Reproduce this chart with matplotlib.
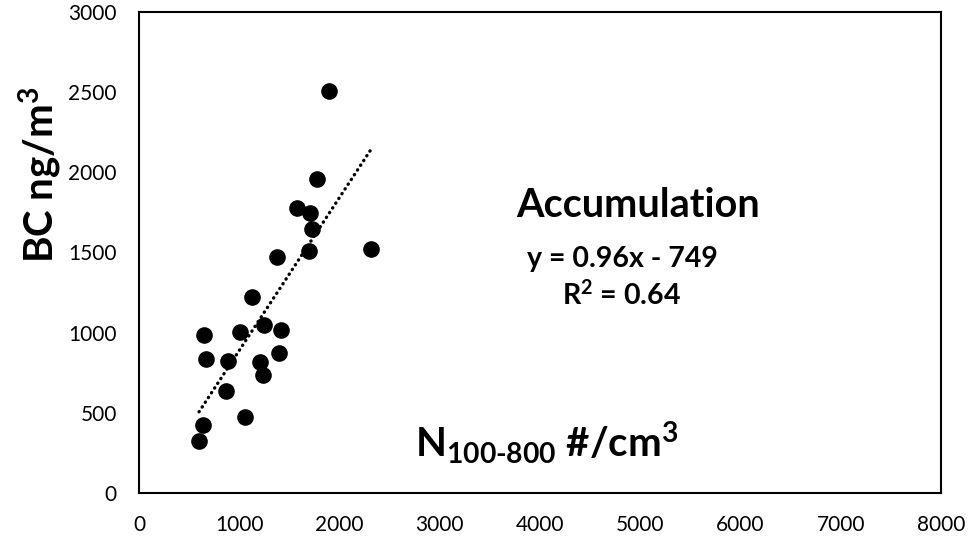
import numpy as np
import matplotlib.pyplot as plt

plt.rcParams['font.family'] = ['Lato', 'DejaVu Sans']
plt.rcParams['mathtext.fontset'] = 'custom'
plt.rcParams['mathtext.rm'] = 'Lato:bold'
plt.rcParams['mathtext.it'] = 'Lato:bold'
plt.rcParams['mathtext.bf'] = 'Lato:bold'

# N100-800 (#/cm3) vs BC (ng/m3)
n_acc = [1895, 1773, 1576, 1709, 1723, 1696, 2317, 1377, 1130, 648, 1007,
         1247, 1416, 668, 885, 1204, 1400, 1240, 871, 1057, 641, 599]
bc = [2510, 1957, 1780, 1745, 1645, 1510, 1520, 1474, 1221, 984, 1006,
      1046, 1017, 834, 823, 819, 873, 736, 635, 476, 424, 324]

x = np.array(n_acc)
y = np.array(bc)

fig = plt.figure(figsize=(9.74, 5.49), dpi=100)
ax = fig.add_axes([139/974, 56/549, 802/974, 481/549])

ax.scatter(x, y, s=120, color='black', zorder=3)

# linear trendline over the data range
k, b = np.polyfit(x, y, 1)
xl = np.array([x.min(), x.max()])
ax.plot(xl, k*xl + b, color='black', lw=2.4, linestyle=(0, (0.1, 1.6)),
        dash_capstyle='round', zorder=2)

ax.set_xlim(0, 8000)
ax.set_ylim(0, 3000)
ax.set_xticks(range(0, 8001, 1000))
ax.set_yticks(range(0, 3001, 500))
ax.tick_params(length=0, labelsize=15, pad=16)
for s in ax.spines.values():
    s.set_linewidth(1.5)

fig.text(40/974, 1 - 175/549, r'BC ng/m$^{\mathregular{3}}$', rotation=90,
         fontsize=29, fontweight='bold', ha='center', va='center')

ax.text(4980, 1722, 'Accumulation', fontsize=28.5, fontweight='bold',
        ha='center', va='baseline')
ax.text(4820, 1410, 'y = 0.96x - 749', fontsize=20.5, fontweight='bold',
        ha='center', va='baseline')
ax.text(4810, 1173, r'R$^{\mathregular{2}}$ = 0.64', fontsize=20.5,
        fontweight='bold', ha='center', va='baseline')
ax.text(2753, 225, r'N$_{\mathregular{100\text{-}800}}$ #/cm$^{\mathregular{3}}$',
        fontsize=29, fontweight='bold', ha='left', va='baseline')

fig.savefig('out.png', dpi=100)
